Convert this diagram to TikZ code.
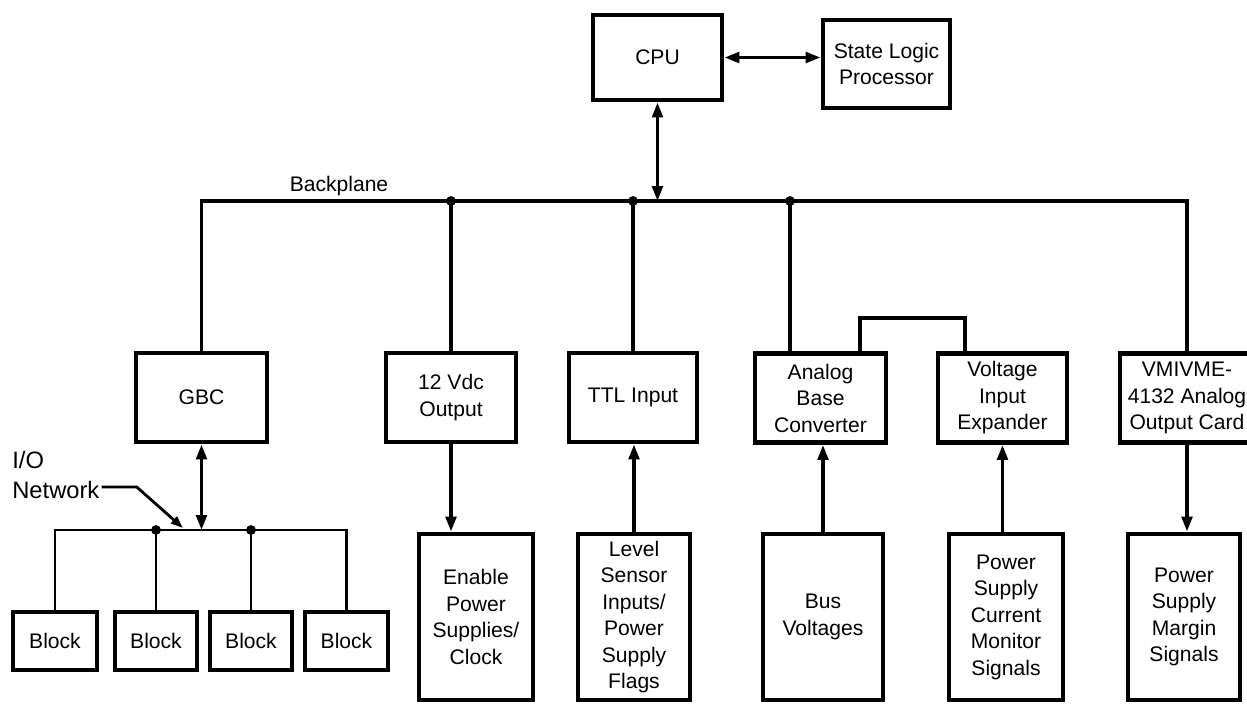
\documentclass[tikz,border=0pt]{standalone}
\usepackage{fontspec}
\setmainfont{Liberation Sans}
\usetikzlibrary{positioning,calc}
\usetikzlibrary{arrows.meta}
\tikzset{
  box/.style={draw=black,line width=2.8pt,align=center,inner sep=1pt},
  card/.style={box,minimum height=1.78cm},
  sig/.style={box,minimum height=3.32cm},
  blk/.style={box,minimum height=1.16cm},
  wire/.style={draw=black,line width=2pt},
  net/.style={draw=black,line width=1.6pt},
}
\tikzset{tip/.style={-{Triangle[length=8.5pt,width=6pt]}}, bitip/.style={{Triangle[length=8.5pt,width=6pt]}-{Triangle[length=8.5pt,width=6pt]}}, dot/.style={circle,fill=black,inner sep=0pt,minimum size=5.6pt}}

\begin{document}
\begin{tikzpicture}[x=0.02cm,y=-0.02cm,font=\fontsize{12}{15.1}\selectfont]
\path[use as bounding box,clip] (0,0) rectangle (1247,703);
\coordinate (bp) at (0,201);\coordinate (nw) at (0,530);
% top
\node[box,minimum width=2.58cm,minimum height=1.70cm](cpu) at (657.5,57.5){CPU};
\node[box,minimum width=2.54cm,minimum height=1.76cm](slp) at (886.5,64){State Logic\\Processor};
\draw[wire,bitip](cpu.east)--(cpu.east -| slp.west);
% cards on the backplane
\node[card,minimum width=2.62cm](gbc) at (201.5,397.5){GBC};
\node[card,minimum width=2.60cm](vdc) at (451,397.5){12 Vdc\\Output};
\node[card,minimum width=2.56cm](ttl) at (633,397.5){TTL Input};
\node[card,minimum width=2.62cm](abc) at (820.5,398){Analog\\Base\\Converter};
\node[card,minimum width=2.58cm](vie) at (1002.5,398){Voltage\\Input\\Expander};
\node[card,minimum width=2.68cm](vmi) at (1187,398){VMIVME-\\4132 Analog\\Output Card};
\node(bpl) at (339,186){Backplane};
\draw[wire](gbc.north)--(gbc.north |- bp)--(vmi.north |- bp)--(vmi.north);
\draw[wire](vdc.north)--(vdc.north |- bp) node[dot](d1){};
\draw[wire](ttl.north)--(ttl.north |- bp) node[dot](d2){};
\coordinate (abcin) at ($(abc.north)+(-30.5,0)$);
\draw[wire](abcin)--(abcin |- bp) node[dot](d3){};
\draw[wire,bitip](cpu.south)--(cpu.south |- bp);
\draw[wire]($(abc.north)+(39.5,0)$)--++(0,-33)-|($(vie.north)+(-37.5,0)$);
% field signals
\node[sig,minimum width=2.28cm](ena) at (476,617){Enable\\Power\\Supplies/\\Clock};
\node[sig,minimum width=2.24cm](lvl) at (634,617){Level\\Sensor\\Inputs/\\Power\\Supply\\Flags};
\node[sig,minimum width=2.40cm](bus) at (823,617){Bus\\Voltages};
\node[sig,minimum width=2.28cm](cur) at (1006,617){Power\\Supply\\Current\\Monitor\\Signals};
\node[sig,minimum width=2.24cm](mrg) at (1184,617){Power\\Supply\\Margin\\Signals};
\draw[wire,tip](vdc.south)--(vdc.south |- ena.north);
\draw[wire,tip](lvl.north)--(lvl.north |- ttl.south);
\draw[wire,tip](bus.north)--(bus.north |- abc.south);
\draw[wire,tip](vie.south |- cur.north)--(vie.south);
\draw[wire,tip](vmi.south)--(vmi.south |- mrg.north);
% I/O network
\foreach \x/\w [count=\i] in {55/1.68,156/1.64,251/1.64,346.5/1.66}
  \node[blk,minimum width=\w cm](b\i) at (\x,641){Block};
\draw[net](b1.north)|-(b4.north |- nw)--(b4.north);
\draw[net](b2.north)--(b2.north |- nw) node[dot](d4){};
\draw[net](b3.north)--(b3.north |- nw) node[dot](d5){};
\draw[wire,bitip](gbc.south)--(gbc.south |- nw);
\node[align=left,anchor=north west,inner sep=0pt,font=\fontsize{13.5}{17}\selectfont](io) at (12,451){I/O\\Network};
\coordinate (ioend) at (183,528);
\draw[net,-{Triangle[length=7pt,width=5pt]}]($(io.south east)+(2,-12)$)--++(35,0)--(ioend);
\end{tikzpicture}
\end{document}
